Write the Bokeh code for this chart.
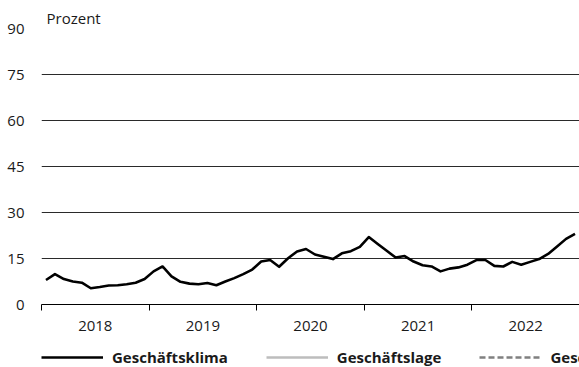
from bokeh.plotting import figure
from bokeh.models import Range1d, FixedTicker, Legend, LegendItem, Title
from bokeh.layouts import column
from bokeh.embed import file_html
from bokeh.resources import INLINE

# ---- data ----
years = ["2018", "2019", "2020", "2021", "2022"]
months = [f"{y}-{m:02d}" for y in years for m in range(1, 13)]
geschaeftsklima = [
    8.0, 9.9, 8.3, 7.5, 7.1, 5.3, 5.7, 6.2, 6.3, 6.6, 7.1, 8.3,
    10.8, 12.4, 9.2, 7.4, 6.8, 6.6, 7.0, 6.3, 7.5, 8.6, 9.9, 11.4,
    14.0, 14.5, 12.3, 15.1, 17.3, 18.1, 16.3, 15.6, 14.8, 16.7, 17.4, 18.8,
    22.0, 19.7, 17.5, 15.3, 15.8, 14.0, 12.8, 12.4, 10.8, 11.7, 12.1, 13.0,
    14.5, 14.5, 12.6, 12.4, 13.9, 13.0, 13.9, 14.8, 16.5, 18.9, 21.4, 23.0,
]
geschaeftslage = []          # not shown in the chart (legend only)
geschaeftserwartungen = []   # not shown in the chart (legend only)
y_ticks = [0, 15, 30, 45, 60, 75, 90]
series_names = ["Geschäftsklima", "Geschäftslage", "Geschäftserwartungen"]
unit_label = "Prozent"

FONT = "Open Sans"
TXT = "#1a1a1a"
STYLES = [dict(line_color="black", line_width=2.6),
          dict(line_color="#bdbdbd", line_width=2.6),
          dict(line_color="#808080", line_width=2.4, line_dash="6 3")]

x_klima = [i + 0.5 for i in range(len(geschaeftsklima))]
n_months = len(months)

# ---------------- main chart ----------------
p = figure(width=579, height=340, output_backend="svg", toolbar_location=None,
           x_range=Range1d(0, n_months), y_range=Range1d(0, y_ticks[-1]),
           min_border_left=41, min_border_right=0, min_border_top=28,
           min_border_bottom=36)
p.outline_line_color = None

p.line(x_klima, geschaeftsklima, line_join="round", **STYLES[0])
p.line(list(range(len(geschaeftslage))), geschaeftslage, **STYLES[1])
p.line(list(range(len(geschaeftserwartungen))), geschaeftserwartungen, **STYLES[2])

# unit label above the plot area
t = Title(text=unit_label, align="left", offset=5, standoff=2,
          text_font=FONT, text_font_size="15px", text_font_style="normal",
          text_color=TXT)
p.add_layout(t, "above")

# y axis
p.yaxis.ticker = FixedTicker(ticks=y_ticks)
p.yaxis.axis_line_color = None
p.yaxis.major_tick_line_color = None
p.yaxis.minor_tick_line_color = None
p.yaxis.major_tick_in = 0
p.yaxis.major_tick_out = 0
p.yaxis.major_label_standoff = 17
p.yaxis.major_label_text_font = FONT
p.yaxis.major_label_text_font_size = "15px"
p.yaxis.major_label_text_color = TXT

# x axis: year boundaries as minor ticks, year labels at mid-year
year_mid = [12 * i + 6 for i in range(len(years))]
year_bounds = [12 * i for i in range(len(years) + 1)]
p.xaxis.ticker = FixedTicker(ticks=year_mid, minor_ticks=year_bounds)
p.xaxis.major_label_overrides = {m: y for m, y in zip(year_mid, years)}
p.xaxis.major_tick_line_color = None
p.xaxis.major_tick_in = 0
p.xaxis.major_tick_out = 0
p.xaxis.minor_tick_line_color = "black"
p.xaxis.minor_tick_in = 0
p.xaxis.minor_tick_out = 6
p.xaxis.axis_line_color = "black"
p.xaxis.axis_line_width = 1
p.xaxis.major_label_standoff = 10
p.xaxis.major_label_text_font = FONT
p.xaxis.major_label_text_font_size = "15px"
p.xaxis.major_label_text_color = TXT

p.xgrid.grid_line_color = None
p.ygrid.ticker = FixedTicker(ticks=y_ticks)
p.ygrid.grid_line_color = "#2a2a2a"
p.ygrid.grid_line_width = 1

# ---------------- legend strip ----------------
lg = figure(width=579, height=27, output_backend="svg", toolbar_location=None,
            x_axis_type=None, y_axis_type=None,
            x_range=Range1d(0, 1), y_range=Range1d(0, 1),
            min_border_left=41, min_border_right=0, min_border_top=0,
            min_border_bottom=0)
lg.outline_line_color = None
lg.xgrid.grid_line_color = None
lg.ygrid.grid_line_color = None
# legend proxies: a single missing value each, so nothing is drawn in the strip
nan = float("nan")
leg_renderers = [lg.line([nan], [nan], **s) for s in STYLES]

legend = Legend(items=[LegendItem(label=n, renderers=[r])
                       for n, r in zip(series_names, leg_renderers)],
                orientation="horizontal", location="bottom_left",
                padding=0, margin=0, spacing=38, glyph_width=62,
                label_standoff=9, border_line_color=None,
                background_fill_alpha=0,
                label_text_font=FONT, label_text_font_size="15px",
                label_text_font_style="bold", label_text_color=TXT)
lg.add_layout(legend, "center")

layout = column(p, lg, spacing=0)
open("out.html", "w").write(file_html(layout, INLINE))
